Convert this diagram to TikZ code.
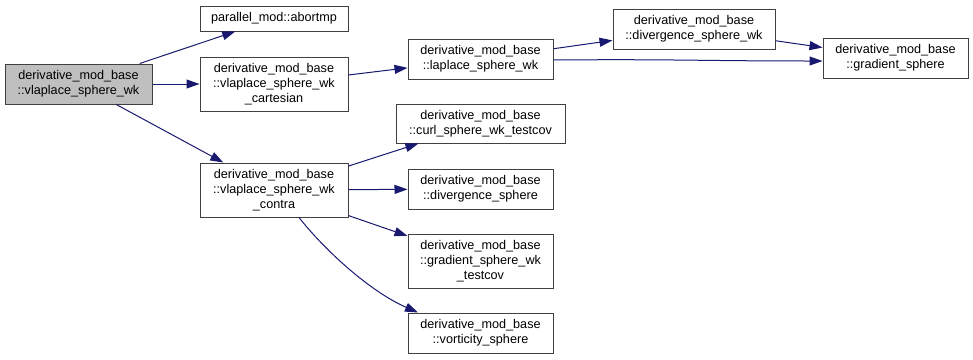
\documentclass[tikz,border=0pt]{standalone}
\usepackage{fontspec}
\setmainfont{Liberation Sans}
\usetikzlibrary{arrows.meta}
\definecolor{edgeblue}{HTML}{191970}
\definecolor{boxline}{HTML}{404040}
\definecolor{rootfill}{HTML}{BFBFBF}
\begin{document}
\begin{tikzpicture}[x=1pt,y=-1pt,
  fn/.style={draw=boxline,line width=1pt,fill=white,align=center,inner sep=0pt,
    font=\fontsize{12.65}{14.7}\selectfont},
  rootfn/.style={fn,fill=rootfill},
  call/.style={draw=edgeblue,line width=1pt,-{Triangle[length=13pt,width=9pt]},color=edgeblue}]
\useasboundingbox (0,0) rectangle (973,359);
% caller
\node[rootfn,minimum width=147pt,minimum height=40pt] (root) at (78.5,84)
  {derivative\_mod\_base\\::vlaplace\_sphere\_wk};
% second column
\node[fn,minimum width=148pt,minimum height=25pt] (abort) at (274,18.5)
  {parallel\_mod::abortmp};
\node[fn,minimum width=148pt,minimum height=54pt] (cart) at (274,84)
  {derivative\_mod\_base\\::vlaplace\_sphere\_wk\\\_cartesian};
\node[fn,minimum width=148pt,minimum height=54pt] (contra) at (274,190)
  {derivative\_mod\_base\\::vlaplace\_sphere\_wk\\\_contra};
% third column
\node[fn,minimum width=145pt,minimum height=40pt] (lap) at (480.5,59)
  {derivative\_mod\_base\\::laplace\_sphere\_wk};
\node[fn,minimum width=169pt,minimum height=39pt] (curl) at (480.5,123.5)
  {derivative\_mod\_base\\::curl\_sphere\_wk\_testcov};
\node[fn,minimum width=145pt,minimum height=40pt] (div) at (480.5,189)
  {derivative\_mod\_base\\::divergence\_sphere};
\node[fn,minimum width=145pt,minimum height=54pt] (gradtc) at (480.5,261)
  {derivative\_mod\_base\\::gradient\_sphere\_wk\\\_testcov};
\node[fn,minimum width=145pt,minimum height=40pt] (vort) at (480.5,333)
  {derivative\_mod\_base\\::vorticity\_sphere};
% fourth and fifth columns
\node[fn,minimum width=162pt,minimum height=40pt] (divwk) at (694,29)
  {derivative\_mod\_base\\::divergence\_sphere\_wk};
\node[fn,minimum width=145pt,minimum height=40pt] (grad) at (895.5,58)
  {derivative\_mod\_base\\::gradient\_sphere};
% calls
\draw[call] (root) -- (abort);
\draw[call] (root) -- (cart);
\draw[call] (root) -- (contra);
\draw[call] (cart) -- (lap);
\draw[call] (lap) -- (divwk);
\draw[call] ([yshift=-1pt]lap.east) .. controls +(120,-1) and +(-120,0) .. ([yshift=-3pt]grad.west);
\draw[call] (divwk) -- (grad);
\draw[call] (contra) -- (curl);
\draw[call] (contra) -- (div);
\draw[call] (contra) -- (gradtc);
\draw[call] ([xshift=25pt]contra.south) .. controls +(26,33) and +(-48,-21) .. ([xshift=-62.5pt]vort.north);
\end{tikzpicture}
\end{document}
